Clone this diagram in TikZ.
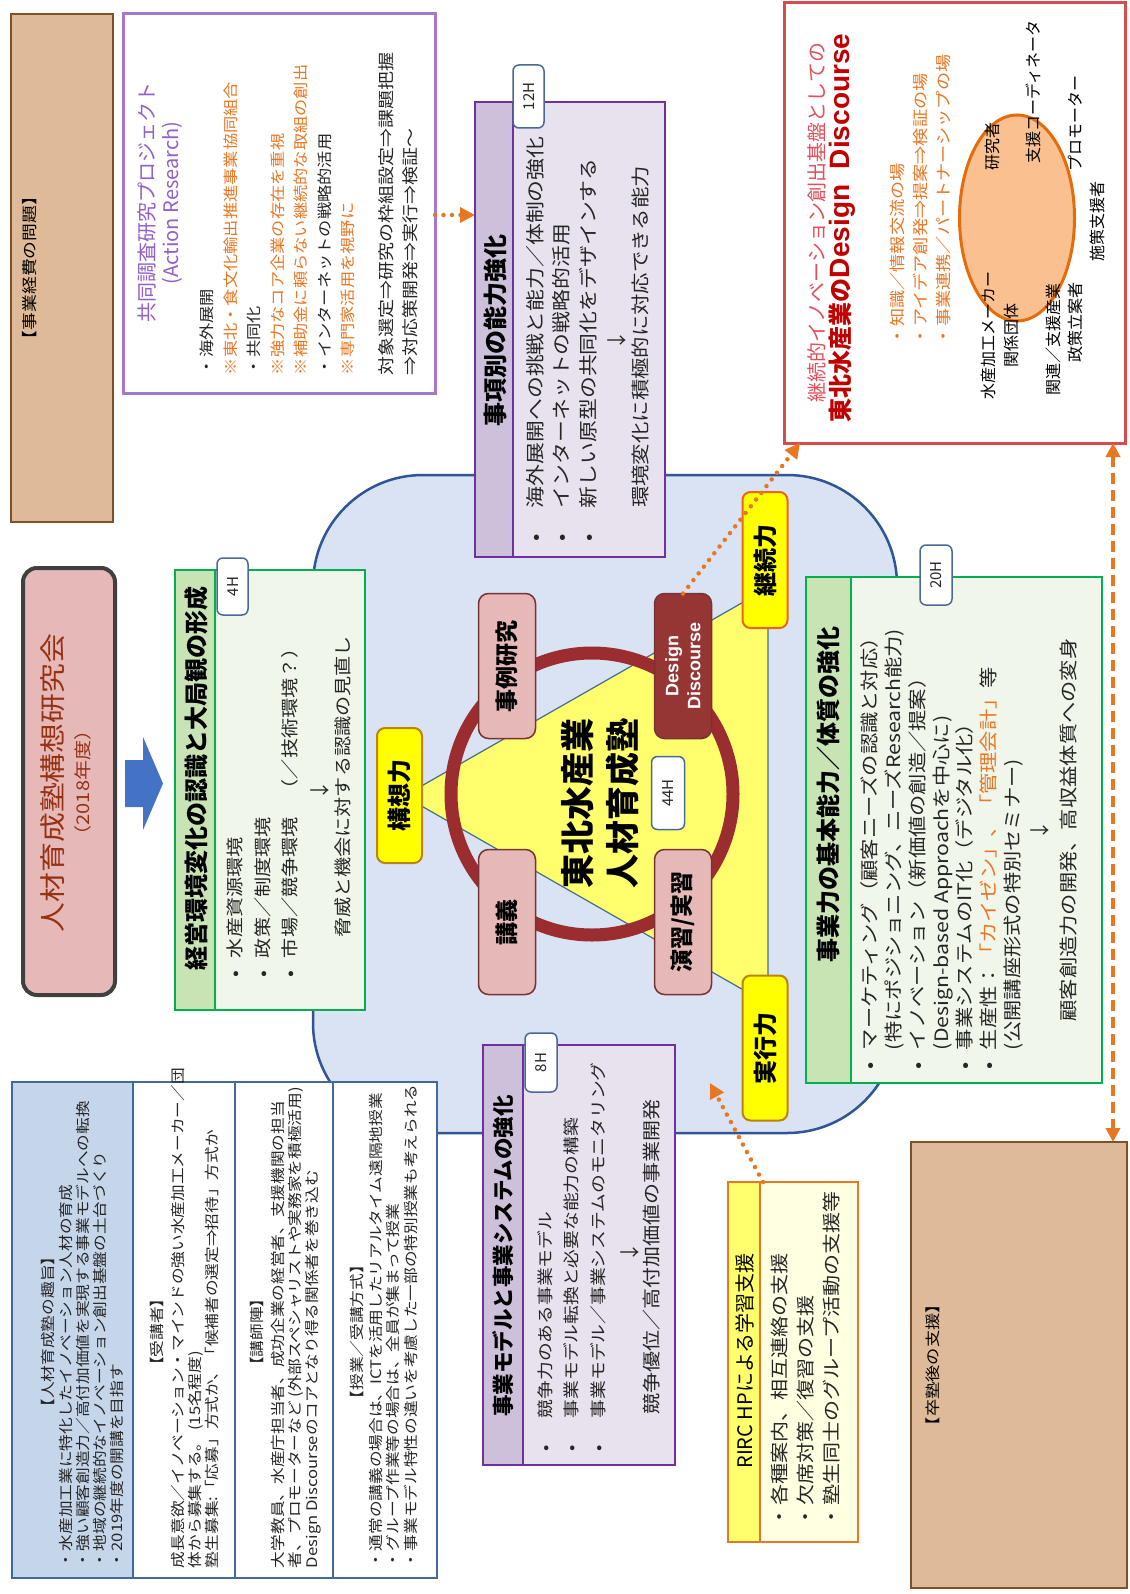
\documentclass[tikz,border=0pt]{standalone}
\usepackage{fontspec}
\setmainfont{Noto Sans CJK JP}
\newfontfamily\jpw{Noto Sans CJK JP}[FakeStretch=1.15]
\newfontfamily\libsans{Liberation Sans}
\usetikzlibrary{arrows.meta,shapes.geometric}
\newcommand\fsz[2]{\fontsize{#1}{#2}\selectfont}
\definecolor{brownfill}{RGB}{222,186,152}
\definecolor{brownline}{RGB}{130,80,40}
\definecolor{arpurple}{RGB}{165,120,205}
\definecolor{artitle}{RGB}{145,95,200}
\definecolor{orangetxt}{RGB}{233,118,34}
\definecolor{ddred}{RGB}{215,75,75}
\definecolor{ddtitle}{RGB}{192,0,0}
\definecolor{ddsub}{RGB}{225,80,90}
\definecolor{ellfill}{RGB}{250,192,143}
\definecolor{ellline}{RGB}{228,108,10}
\definecolor{purpline}{RGB}{112,48,160}
\definecolor{purphead}{RGB}{204,192,218}
\definecolor{purpbody}{RGB}{232,226,238}
\definecolor{greenline}{RGB}{0,176,80}
\definecolor{greenhead}{RGB}{200,227,180}
\definecolor{greenbody}{RGB}{240,246,234}
\definecolor{regionfill}{RGB}{218,227,243}
\definecolor{regionline}{RGB}{47,85,151}
\definecolor{triyellow}{RGB}{255,255,110}
\definecolor{triline}{RGB}{70,110,140}
\definecolor{ringc}{RGB}{155,45,48}
\definecolor{pinkfill}{RGB}{230,185,184}
\definecolor{pinkline}{RGB}{120,50,50}
\definecolor{ddfill}{RGB}{150,54,52}
\definecolor{tagline}{RGB}{75,105,150}
\definecolor{yellowtag}{RGB}{255,255,0}
\definecolor{goldline}{RGB}{190,130,20}
\definecolor{orangeline}{RGB}{232,119,34}
\definecolor{rircbody}{RGB}{255,255,226}
\definecolor{rirchead}{RGB}{255,255,110}
\definecolor{blfill}{RGB}{197,213,234}
\definecolor{blline}{RGB}{65,105,155}
\definecolor{titlefill}{RGB}{230,185,184}
\definecolor{titleline}{RGB}{64,64,64}
\definecolor{titletxt}{RGB}{150,50,20}
\definecolor{arrowblue}{RGB}{68,114,196}
\definecolor{bodytxt}{RGB}{38,38,38}
\begin{document}
\begin{tikzpicture}[x=1pt,y=1pt,
  every node/.style={inner sep=0pt,outer sep=0pt,text=bodytxt},
  brownbox/.style={draw=brownline,fill=brownfill,line width=2},
  tag/.style={draw=tagline,fill=white,line width=1.5,rounded corners=6,font=\fsz{15}{18}},
  pinkbox/.style={draw=pinkline,fill=pinkfill,line width=1.5,rounded corners=10,minimum width=145,minimum height=57,font=\fsz{23}{27}\bfseries,text=black},
  ytag/.style={draw=goldline,fill=yellowtag,line width=2,rounded corners=8,minimum width=135,minimum height=45,font=\fsz{24}{28}\bfseries,text=black},
  odot/.style={draw=orangeline,line width=4.5,dash pattern=on 0pt off 8.5pt,line cap=round,-{Triangle[length=15pt,width=15pt]}},
  odash/.style={draw=orangeline,line width=3.5,dash pattern=on 11pt off 6pt,{Triangle[length=14pt,width=14pt]}-{Triangle[length=14pt,width=14pt]}}]
\useasboundingbox (0,0) rectangle (1129,-1594);
\fill[white] (0,0) rectangle (1129,-1594);
\begin{scope}[shift={(0,-1594)},rotate=90,transform shape]

% ---------- brown boxes
\node[brownbox,minimum width=508,minimum height=102] (keihi) at (1326,-62) {};
\node[font=\jpw\fsz{15.5}{18},text=black] (keihit) at (1326,-30) {【事業経費の問題】};
\node[brownbox,minimum width=446,minimum height=216] (sotsu) at (229,-1019) {};
\node[font=\jpw\fsz{15}{18},text=black] (sotsut) at (229,-933) {【卒塾後の支援】};

% ---------- title
\node[draw=titleline,fill=titlefill,line width=4,rounded corners=14,minimum width=427,minimum height=92] (title) at (812.5,-69) {};
\node[font=\jpw\fsz{26}{30},text=titletxt] (titlet) at (811,-53) {人材育成塾構想研究会};
\node[font=\jpw\fsz{17.5}{20},text=titletxt] (titley) at (811,-83) {（2018年度）};

% ---------- blue arrow
\fill[arrowblue] (787,-125) -- (834,-125) -- (834,-143) -- (857,-143) -- (810.5,-163) -- (764,-143) -- (787,-143) -- cycle;

% ---------- Action Research box
\node[draw=arpurple,fill=white,line width=3,minimum width=379,minimum height=312] (AR) at (1390.5,-279) {};
\node[font=\fsz{20}{24},text=artitle] (ARt) at (1391,-162) {\begin{tabular}{@{}c@{}}共同調査研究プロジェクト\\(Action Research)\end{tabular}};
\node[anchor=north west,font=\jpw\fsz{15}{23.5},text=bodytxt] (ARb) at (1219,-196.3) {\begin{tabular}{@{}l@{}}
・海外展開\\
{\color{orangetxt}※東北・食文化輸出推進事業協同組合}\\
・共同化\\
{\color{orangetxt}※強力なコア企業の存在を重視}\\
{\color{orangetxt}※補助金に頼らない継続的な取組の創出}\\
・インターネットの戦略的活用\\
{\color{orangetxt}※専門家活用を視野に}\\[15.5pt]
\fsz{16.5}{25}対象選定⇒研究の枠組設定⇒課題把握\\
\fsz{16.5}{25}⇒対応策開発⇒実行⇒検証～
\end{tabular}};

% ---------- Design Discourse box (red)
\node[draw=ddred,fill=white,line width=3,minimum width=440,minimum height=341] (RB) at (1371,-954.5) {};
\node[anchor=west,font=\fsz{20}{24},text=ddsub] (RBa) at (1192,-817) {継続的イノベーション創出基盤としての};
\node[anchor=west,font=\fsz{24}{28}\bfseries,text=ddtitle] (RBb) at (1172,-842) {東北水産業の{\libsans\fsz{28}{30}\bfseries Design\ \ Discourse}};
\node[anchor=north west,font=\jpw\fsz{15.8}{23},text=orangetxt] (RBc) at (1249,-886.9) {\begin{tabular}{@{}l@{}}
・知識／情報交流の場\\
・アイデア創発⇒提案⇒検証の場\\
・事業連携／パートナーシップの場
\end{tabular}};
\node[ellipse,draw=ellline,fill=ellfill,line width=3,minimum width=206,minimum height=115] (ell) at (1376,-1017) {};
\node[font=\fsz{16}{23},text=black] (l1) at (1259,-1001.5) {\begin{tabular}{@{}c@{}}水産加工メーカー\\関係団体\end{tabular}};
\node[font=\fsz{16}{20},text=black] (l2) at (1447,-992) {研究者};
\node[font=\fsz{16}{20},text=black] (l3) at (1502,-1033) {支援コーディネータ};
\node[font=\fsz{16}{20},text=black] (l4) at (1470,-1075) {プロモーター};
\node[font=\fsz{16}{20},text=black] (l5) at (1372,-1097) {施策支援者};
\node[font=\fsz{16}{20},text=black] (l6) at (1255,-1053) {関連／支援産業};
\node[font=\fsz{16}{20},text=black] (l7) at (1272,-1075) {政策立案者};

% ---------- big blue region
\node[draw=regionline,fill=regionfill,line width=2.5,rounded corners=110,minimum width=658,minimum height=584] (region) at (790,-605) {};

% triangle
\coordinate (TA) at (798,-404);
\coordinate (TB) at (1006,-768);
\coordinate (TC) at (590,-768);
\draw[triline,fill=triyellow,line width=1.2] (TA) -- (TB) -- (TC) -- cycle;

% ring
\draw[ringc,line width=13] (800,-592) circle[radius=141];

% pink boxes
\node[pinkbox] (jirei) at (928,-507) {事例研究};
\node[pinkbox] (kougi) at (672,-507) {講義};
\node[pinkbox,fill=ddfill,text=white,font=\libsans\fsz{18}{22}\bfseries,align=center] (dd) at (928,-683) {Design\\Discourse};
\node[pinkbox] (enshu) at (672,-683) {演習/実習};

% centre text
\node[font=\fsz{34}{45}\bfseries,text=black,align=center] (centre) at (791,-600) {東北水産業\\人材育成塾};
\node[tag,minimum width=73,minimum height=33] (t44) at (801,-668) {44H};

% yellow tags
\node[ytag] (kousou) at (798.5,-399.5) {構想力};
\node[ytag,draw=orangeline!85!red,minimum width=136] (keizoku) at (1034,-765) {継続力};
\node[ytag,minimum width=145] (jikkou) at (546,-765) {実行力};

% ---------- 4H box
\node[fill=greenbody,minimum width=440,minimum height=190] (b4) at (804,-270) {};
\fill[greenhead] (584,-175) rectangle (1024,-215);
\draw[greenline,line width=2.5] (584,-215) -- (1024,-215);
\draw[greenline,line width=2.5] (b4.north west) rectangle (b4.south east);
\node[font=\fsz{24}{28}\bfseries,text=black] (b4t) at (816,-196) {経営環境変化の認識と大局観の形成};
\node[tag,minimum width=57,minimum height=31] (t4) at (1007.5,-232.5) {4H};
\node[anchor=north west,font=\jpw\fsz{17.5}{27.5}] (b4b) at (617,-222.4) {\begin{tabular}{@{}p{19pt}@{}l@{}}
\textbullet & 水産資源環境\\
\textbullet & 政策／制度環境\\
\textbullet & 市場／競争環境\hspace{18pt}（／技術環境？）
\end{tabular}};
\node[font=\fsz{20}{24}] (b4a) at (804,-320) {↓};
\node[font=\jpw\fsz{17.5}{24}] (b4l) at (807,-343) {脅威と機会に対する認識の見直し};

% ---------- 12H box
\node[fill=purpbody,minimum width=455,minimum height=190] (P12) at (1264.5,-570) {};
\fill[purphead] (1037,-475) rectangle (1492,-513);
\draw[purpline,line width=2.5] (1037,-513) -- (1492,-513);
\draw[purpline,line width=2.5] (P12.north west) rectangle (P12.south east);
\node[font=\fsz{24}{28}\bfseries,text=black] (P12t) at (1264,-495) {事項別の能力強化};
\node[tag,minimum width=63,minimum height=31] (t12) at (1497.5,-528.5) {12H};
\node[anchor=north west,font=\jpw\fsz{19}{26.5}] (P12b) at (1053,-523.7) {\begin{tabular}{@{}p{33pt}@{}l@{}}
\textbullet & 海外展開への挑戦と能力／体制の強化\\
\textbullet & インターネットの戦略的活用\\
\textbullet & 新しい原型の共同化をデザインする
\end{tabular}};
\node[font=\fsz{20}{24}] (P12a) at (1254,-617) {↓};
\node[font=\jpw\fsz{18.6}{24}] (P12l) at (1257,-640) {環境変化に積極的に対応できる能力};

% ---------- 8H box
\node[fill=purpbody,minimum width=420,minimum height=192] (P8) at (339,-579) {};
\fill[purphead] (129,-483) rectangle (549,-523);
\draw[purpline,line width=2.5] (129,-523) -- (549,-523);
\draw[purpline,line width=2.5] (P8.north west) rectangle (P8.south east);
\node[font=\fsz{21.5}{26}\bfseries,text=black] (P8t) at (338,-503) {事業モデルと事業システムの強化};
\node[tag,minimum width=59,minimum height=32] (t8) at (531.5,-541) {8H};
\node[anchor=north west,font=\jpw\fsz{16.3}{26.5}] (P8b) at (143,-532.6) {\begin{tabular}{@{}p{33pt}@{}l@{}}
\textbullet & 競争力のある事業モデル\\
\textbullet & 事業モデル転換と必要な能力の構築\\
\textbullet & 事業モデル／事業システムのモニタリング
\end{tabular}};
\node[font=\fsz{20}{24}] (P8a) at (342,-630) {↓};
\node[font=\jpw\fsz{18.3}{24}] (P8l) at (337,-652) {競争優位／高付加価値の事業開発};

% ---------- 20H box
\node[fill=greenbody,minimum width=506,minimum height=296] (b20) at (764,-954) {};
\fill[greenhead] (511,-806) rectangle (1017,-851);
\draw[greenline,line width=2.5] (511,-851) -- (1017,-851);
\draw[greenline,line width=2.5] (b20.north west) rectangle (b20.south east);
\node[font=\fsz{24}{28}\bfseries,text=black] (b20t) at (800,-828) {事業力の基本能力／体質の強化};
\node[tag,minimum width=60,minimum height=32] (t20) at (1019,-936) {20H};
\node[anchor=north west,font=\jpw\fsz{18.5}{23.8}] (b20b) at (525,-860) {\begin{tabular}{@{}p{19pt}@{}l@{}}
\textbullet & マーケティング（顧客ニーズの認識と対応）\\
 & (特にポジショニング、ニーズResearch能力)\\
\textbullet & イノベーション（新価値の創造／提案）\\
 & (Design-based Approachを中心に)\\
\textbullet & 事業システムのIT化（デジタル化）\\
\textbullet & 生産性：{\color{orangetxt}「カイゼン」、「管理会計」}等\\
 & (公開講座形式の特別セミナー)
\end{tabular}};
\node[font=\fsz{20}{24}] (b20a) at (764,-1040) {↓};
\node[font=\jpw\fsz{18.5}{24}] (b20l) at (764,-1068) {顧客創造力の開発、高収益体質への変身};

% ---------- RIRC box
\node[fill=rircbody,minimum width=360,minimum height=130] (RIRC) at (232,-793) {};
\fill[rirchead] (52,-728) rectangle (412,-760);
\draw[orangeline,line width=2.5] (52,-760) -- (412,-760);
\draw[orangeline,line width=2.5] (RIRC.north west) rectangle (RIRC.south east);
\node[font=\fsz{20}{24},text=black] (RIRCt) at (233,-745) {RIRC HPによる学習支援};
\node[anchor=north west,font=\jpw\fsz{18.3}{26}] (RIRCb) at (67,-768.7) {\begin{tabular}{@{}l@{}}
・各種案内、相互連絡の支援\\
・欠席対策／復習の支援\\
・塾生同士のグループ活動の支援等
\end{tabular}};

% ---------- bottom-left (landscape top-left) box
\node[fill=white,minimum width=496,minimum height=425] (shushi) at (264,-224.5) {};
\fill[blfill] (16,-12) rectangle (512,-133);
\draw[blline,line width=1.5] (16,-133) -- (512,-133) (16,-235) -- (512,-235) (16,-333) -- (512,-333);
\draw[blline,line width=2] (shushi.north west) rectangle (shushi.south east);
\node[font=\jpw\fsz{14.5}{16.3}] (s1h) at (262,-48) {【人材育成塾の趣旨】};
\node[anchor=north west,font=\jpw\fsz{14.5}{16.3}] (s1b) at (26,-59.1) {\begin{tabular}{@{}l@{}}
・水産加工業に特化したイノベーション人材の育成\\
・強い顧客創造力／高付加価値を実現する事業モデルへの転換\\
・地域の継続的なイノベーション創出基盤の土台づくり\\
・2019年度の開講を目指す
\end{tabular}};
\node[font=\jpw\fsz{14.5}{16.3}] (s2h) at (262,-157) {【受講者】};
\node[anchor=north west,font=\jpw\fsz{14.5}{16.5}] (s2b) at (26,-171) {\begin{tabular}{@{}l@{}}
成長意欲／イノベーション・マインドの強い水産加工メーカー／団\\
体から募集する。 (15名程度)\\
塾生募集:「応募」方式か、「候補者の選定⇒招待」方式か
\end{tabular}};
\node[font=\jpw\fsz{14.5}{16.3}] (s3h) at (262,-257) {【講師陣】};
\node[anchor=north west,font=\jpw\fsz{14.5}{16.5}] (s3b) at (26,-271) {\begin{tabular}{@{}l@{}}
大学教員、水産庁担当者、成功企業の経営者、支援機関の担当\\
者、プロモーターなど (外部スペシャリストや実務家を積極活用)\\
Design Discourseのコアとなり得る関係者を巻き込む
\end{tabular}};
\node[font=\jpw\fsz{14.5}{16.3}] (s4h) at (262,-357) {【授業／受講方式】};
\node[anchor=north west,font=\jpw\fsz{14.5}{17}] (s4b) at (26,-369) {\begin{tabular}{@{}l@{}}
・通常の講義の場合は、ICTを活用したリアルタイム遠隔地授業\\
・グループ作業等の場合は、全員が集まって授業\\
・事業モデル特性の違いを考慮した一部の特別授業も考えられる
\end{tabular}};

% ---------- connectors
\coordinate (a1) at (1379,0);
\draw[odot] (AR.south -| a1) -- (P12.north -| a1);
\coordinate (e2) at (0,-800);
\draw[odot] (dd.east) -- (RB.west |- e2);
\coordinate (a3) at (0,-1113);
\draw[odash] (RB.west |- a3) -- (sotsu.east |- a3);
\coordinate (s4) at (0,-763);
\coordinate (e4) at (511,-710);
\draw[odot] (RIRC.east |- s4) -- (e4);

\end{scope}
\end{tikzpicture}
\end{document}
